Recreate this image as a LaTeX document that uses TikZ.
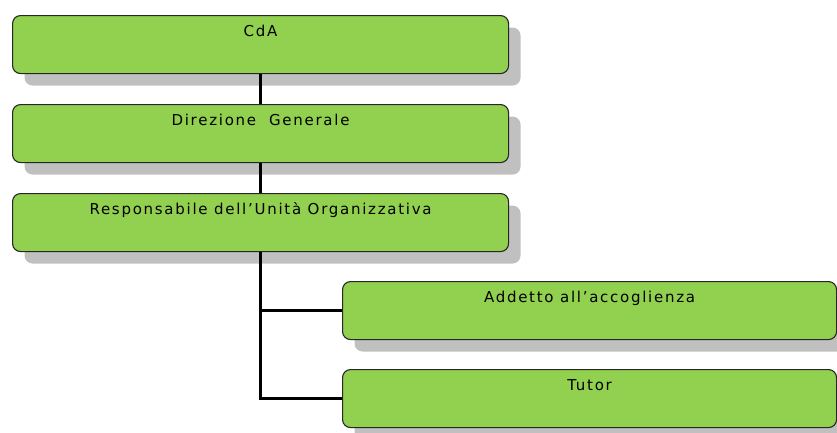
\documentclass[tikz,border=0pt]{standalone}
\usepackage{fontspec}
\setmainfont{DejaVu Sans}[LetterSpace=11.5]
\usetikzlibrary{shadows}
\definecolor{boxgreen}{HTML}{92D050}
\definecolor{shadowgray}{HTML}{C0C0C0}
\begin{document}
\begin{tikzpicture}[x=1pt,y=-1pt,
  orgbox/.style={draw=black!85, line width=1.1pt, fill=boxgreen, rounded corners=8pt,
    anchor=north west, minimum height=58pt, inner ysep=9pt, inner xsep=0pt,
    text height=12pt, text depth=28pt, font=\fontsize{15}{17}\selectfont,
    drop shadow={shadow xshift=12pt, shadow yshift=-12pt, fill=shadowgray, opacity=1}},
  link/.style={draw=black, line width=3pt}]
\useasboundingbox (0,0) rectangle (837,432);
\clip (0,0) rectangle (837,432);
\node[orgbox, minimum width=496pt] (cda) at (12,15) {CdA};
\node[orgbox, minimum width=496pt] (dg) at (12,104) {Direzione\ \ Generale};
\node[orgbox, minimum width=496pt] (ruo) at (12,193) {Responsabile dell’Unità Organizzativa};
\node[orgbox, minimum width=494pt] (add) at (342,281) {Addetto all’accoglienza};
\node[orgbox, minimum width=494pt] (tut) at (342,369) {Tutor};
\coordinate (j1) at (ruo.south |- add.west);
\coordinate (j2) at (ruo.south |- tut.west);
\draw[link] (cda.south) -- (dg.north);
\draw[link] (dg.south) -- (ruo.north);
\draw[link] (ruo.south) -- (j2) -- (tut.west);
\draw[link] (j1) -- (add.west);
\end{tikzpicture}
\end{document}
